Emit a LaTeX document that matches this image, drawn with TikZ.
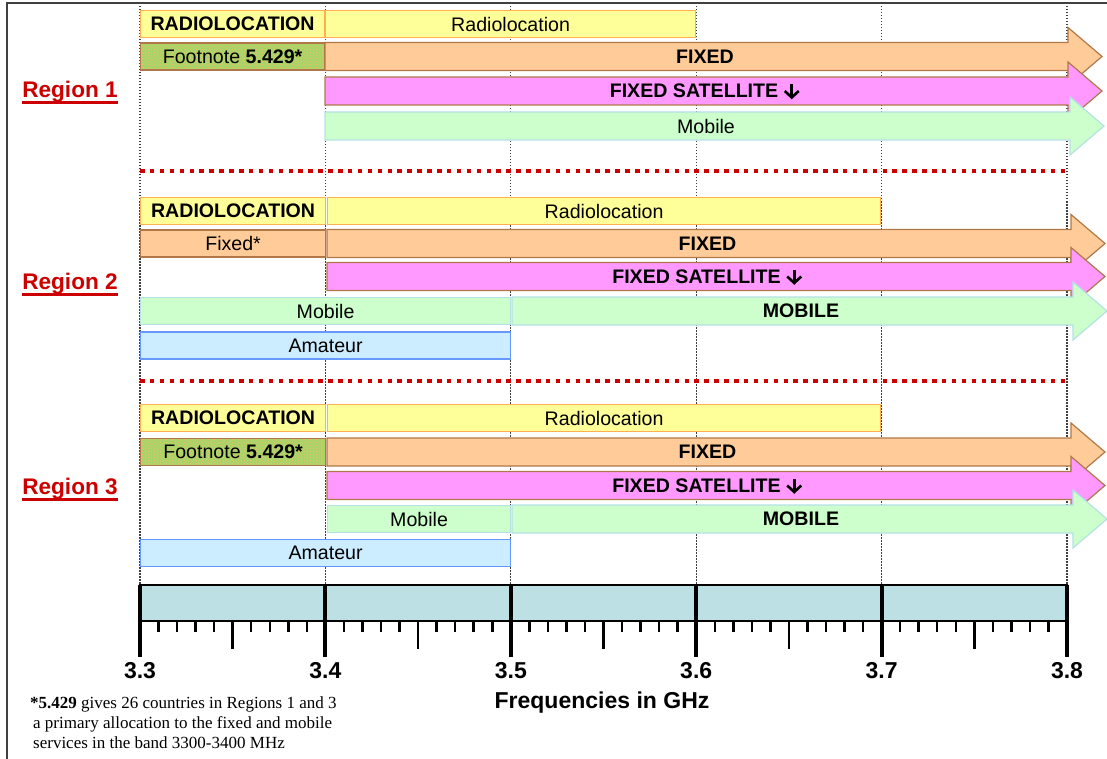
\documentclass[tikz,border=0pt]{standalone}
\usepackage{fontspec}
\setmainfont{Liberation Sans}
\newfontfamily\notefont{Liberation Serif}
\usetikzlibrary{calc,patterns}

\definecolor{radfill}{RGB}{255,255,153}
\definecolor{radline}{RGB}{255,176,80}
\definecolor{fixfill}{RGB}{255,204,153}
\definecolor{fixline}{RGB}{176,120,72}
\definecolor{satfill}{RGB}{255,153,255}
\definecolor{mobfill}{RGB}{204,255,204}
\definecolor{mobline}{RGB}{180,225,230}
\definecolor{amafill}{RGB}{204,236,255}
\definecolor{amaline}{RGB}{102,153,255}
\definecolor{notefill}{RGB}{165,212,105}
\definecolor{notehatch}{RGB}{250,190,100}
\definecolor{regred}{RGB}{204,0,0}
\definecolor{axisfill}{RGB}{188,224,227}
\definecolor{framegray}{RGB}{64,64,64}

\newcommand{\bandfont}{\fontsize{19.6}{21}\selectfont}
% box: name, x from, x to, y centre, style, text
\newcommand{\bandbox}[6]{%
  \node[#5, minimum width={(#3-#2)*1pt}] (#1) at (#2,#4) {#6};}
% arrow: name, x from, tip, y centre, style, text
\newcommand{\bandarrow}[6]{%
  \draw[#5] (#2,#4-14) -- (#3-34,#4-14) -- (#3-34,#4-29) -- (#3,#4)
    -- (#3-34,#4+29) -- (#3-34,#4+14) -- (#2,#4+14) -- cycle;
  \node[font=\bandfont] (#1) at ({(#2+#3-17)/2},#4) {#6};}
% small down arrow at the end of a label
\newcommand{\satdown}[1]{%
  \draw[downmark] ([xshift=-12pt,yshift=7pt]#1.east) -- ([xshift=-12pt,yshift=-6.5pt]#1.east);
  \draw[downmark] ([xshift=-19pt,yshift=0pt]#1.east) -- ([xshift=-12pt,yshift=-6.5pt]#1.east)
    -- ([xshift=-5pt,yshift=0pt]#1.east);}

\tikzset{
  band/.style={draw, line width=1.2pt, minimum height=27pt, inner sep=0pt, anchor=west, font=\bandfont},
  radbox/.style={band, fill=radfill, draw=radline},
  fixbox/.style={band, fill=fixfill, draw=fixline},
  notebox/.style={band, draw=fixline, preaction={fill=notefill}, pattern=crosshatch dots, pattern color=notehatch},
  mobbox/.style={band, fill=mobfill, draw=mobline},
  amabox/.style={band, fill=amafill, draw=amaline},
  fixarrow/.style={fill=fixfill, draw=fixline, line width=1.2pt},
  satarrow/.style={fill=satfill, draw=fixline, line width=1.2pt},
  mobarrow/.style={fill=mobfill, draw=mobline, line width=1.2pt},
  downmark/.style={line width=2.6pt, line join=miter},
  gridline/.style={dash pattern=on 1.5pt off 1.5pt, line width=1.2pt, black!75},
  sepline/.style={regred, line width=4.5pt, dash pattern=on 4.5pt off 5.4pt},
  reglab/.style={regred, font=\bfseries\fontsize{22.6}{25}\selectfont, inner sep=0pt},
  ticklab/.style={font=\bfseries\fontsize{23}{25}\selectfont},
}

\begin{document}
\begin{tikzpicture}[x=1pt,y=-1pt]

  \useasboundingbox (0,0) rectangle (1107,759);
  \draw[framegray, line width=1.5pt] (7,759) -- (7,3) -- (1107,3);

  \pgfmathsetmacro{\fstep}{185.4}

  \foreach \k in {0,...,5}
    \draw[gridline] ({140+\k*\fstep},3) -- ({140+\k*\fstep},585);

  \draw[sepline] (140,171) -- (1067,171);
  \draw[sepline] (140,381) -- (1067,381);

  % Region 1
  \bandbox{r1rad}{140}{324}{24}{radbox}{\textbf{RADIOLOCATION}}
  \bandbox{r1radl}{325}{695}{24}{radbox}{Radiolocation}
  \bandbox{r1note}{140}{324}{56.5}{notebox}{Footnote \textbf{5.429*}}
  \bandarrow{r1fix}{325}{1102}{56.5}{fixarrow}{\textbf{FIXED}}
  \bandarrow{r1sat}{325}{1102}{91}{satarrow}{\textbf{FIXED SATELLITE}\hspace*{22pt}}
  \satdown{r1sat}
  \bandarrow{r1mob}{325}{1104}{126}{mobarrow}{Mobile}

  % Region 2
  \bandbox{r2rad}{140}{325}{211}{radbox}{\textbf{RADIOLOCATION}}
  \bandbox{r2radl}{327}{880}{211}{radbox}{Radiolocation}
  \bandbox{r2fixl}{140}{325}{243.5}{fixbox}{Fixed*}
  \bandarrow{r2fix}{327}{1105}{243.5}{fixarrow}{\textbf{FIXED}}
  \bandarrow{r2sat}{327}{1105}{276.5}{satarrow}{\textbf{FIXED SATELLITE}\hspace*{22pt}}
  \satdown{r2sat}
  \bandbox{r2mobl}{140}{510}{311}{mobbox}{Mobile}
  \bandarrow{r2mob}{512}{1107}{311}{mobarrow}{\textbf{MOBILE}}
  \bandbox{r2ama}{140}{510}{345.5}{amabox}{Amateur}

  % Region 3
  \bandbox{r3rad}{140}{325}{418}{radbox}{\textbf{RADIOLOCATION}}
  \bandbox{r3radl}{327}{880}{418}{radbox}{Radiolocation}
  \bandbox{r3note}{140}{325}{452}{notebox}{Footnote \textbf{5.429*}}
  \bandarrow{r3fix}{327}{1105}{452}{fixarrow}{\textbf{FIXED}}
  \bandarrow{r3sat}{327}{1105}{485.5}{satarrow}{\textbf{FIXED SATELLITE}\hspace*{22pt}}
  \satdown{r3sat}
  \bandbox{r3mobl}{327}{510}{519}{mobbox}{Mobile}
  \bandarrow{r3mob}{512}{1107}{519}{mobarrow}{\textbf{MOBILE}}
  \bandbox{r3ama}{140}{510}{553}{amabox}{Amateur}

  % region labels
  \foreach \r/\y in {1/92,2/284,3/489}{
    \node[reglab] (reg\r) at (70,\y) {Region \r};
    \draw[regred, line width=2.6pt] ([yshift=-4.5pt]reg\r.base west) -- ([yshift=-4.5pt]reg\r.base east);
  }

  % frequency axis
  \fill[axisfill] (140,585) rectangle (1067,621);
  \draw[line width=1.5pt] (140,585) rectangle (1067,621);
  \foreach \i in {1,...,49}{
    \pgfmathtruncatemacro{\m}{mod(\i,10)}
    \pgfmathtruncatemacro{\h}{mod(\i,5)}
    \ifnum\m=0\else
      \ifnum\h=0 \def\tend{649}\else\def\tend{632}\fi
      \draw[line width=2.5pt] ({140+\i*\fstep/10},621) -- ({140+\i*\fstep/10},\tend);
    \fi
  }
  \foreach \f [count=\k from 0] in {3.3,3.4,3.5,3.6,3.7,3.8}{
    \draw[line width=4pt] ({140+\k*\fstep},585) -- ++(0,72);
    \node[ticklab] (f\k) at ({140+\k*\fstep},671) {\f};
  }
  \node[ticklab] (freq) at (602,703) {Frequencies in GHz};

  \node[font=\notefont\fontsize{17}{20}\selectfont, align=left, anchor=north west, inner sep=0pt] (note) at (30,696)
    {\textbf{*5.429} gives 26 countries in Regions 1 and 3\\
     \hspace*{3pt}a primary allocation to the fixed and mobile\\
     \hspace*{3pt}services in the band 3300-3400 MHz};

\end{tikzpicture}
\end{document}
